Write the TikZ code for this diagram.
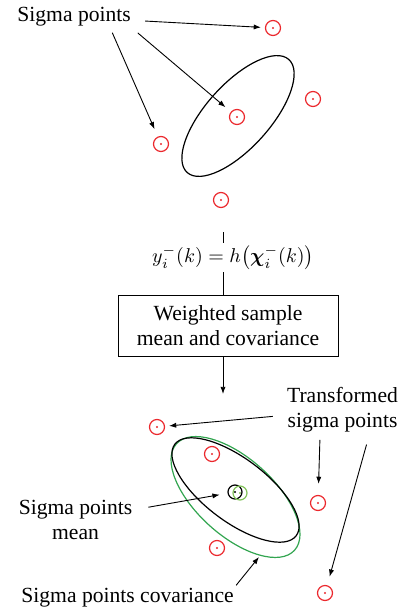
\documentclass[tikz,border=0pt]{standalone}
\usepackage{amsmath}
\usepackage{fontspec}
\setmainfont{Liberation Serif}
\usepackage{xcolor}
\usepackage{tikz}
\usetikzlibrary{positioning,arrows.meta,calc}
\definecolor{ptred}{RGB}{235,40,45}
\definecolor{covgreen}{RGB}{50,165,80}
\definecolor{meangreen}{RGB}{130,195,90}
\tikzset{
  sigpt/.style={circle, draw=ptred, line width=0.6pt, minimum size=7.5pt, inner sep=0pt,
                path picture={\fill[ptred] (path picture bounding box.center) circle (0.55pt);}},
  meanpt/.style={circle, draw=#1, line width=0.6pt, minimum size=7pt, inner sep=0pt,
                path picture={\fill[#1] (path picture bounding box.center) circle (0.55pt);}},
  lbl/.style={font=\fontsize{10.8}{12.6}\selectfont, inner sep=1pt, align=center},
  wbox/.style={draw, line width=0.5pt, minimum width=110pt, minimum height=30.5pt,
               align=center, font=\fontsize{10.8}{12.4}\selectfont},
  arr/.style={-{Latex[length=3.6pt,width=2.6pt]}, line width=0.45pt},
  ell/.style={line width=0.6pt}
}
\begin{document}
\begin{tikzpicture}[x=0.5pt, y=-0.5pt]
    \useasboundingbox (0,0) rectangle (406,609);
    % sigma points before the transform
    \node[lbl, anchor=base west] (sig) at (15,22) {Sigma points};
    \node[sigpt] (sp1) at (273,28) {};
    \node[sigpt] (sp2) at (237,117) {};
    \node[sigpt] (sp3) at (313,99) {};
    \node[sigpt] (sp4) at (161,144) {};
    \node[sigpt] (sp5) at (221,200) {};
    \draw[ell] (238,116) ellipse [x radius=38pt, y radius=16pt, rotate=48];
    \draw[arr, shorten <=6pt, shorten >=2pt] (sig) -- (sp1);
    \draw[arr, shorten <=3pt, shorten >=3.5pt] (sig.south east) -- (sp2);
    \draw[arr, shorten <=2pt, shorten >=4pt] (sig.-18) -- (sp4);
    % transform and weighting
    \coordinate (lntop) at (223,232);
    \node[inner sep=1pt, font=\fontsize{10.4}{12}\selectfont] (eq) at (233,257.5)
      {$y_i^{-}(k) = h\bigl(\boldsymbol{\chi}_i^{-}(k)\bigr)$};
    \node[wbox] (box) at (228,325.5) {Weighted sample\\mean and covariance};
    \coordinate (flowend) at (223,394);
    \draw[line width=0.5pt] (lntop) -- (lntop |- eq.north);
    \draw[line width=0.5pt] (lntop |- eq.south) -- (lntop |- box.north);
    \draw[arr] (lntop |- box.south) -- (flowend);
    % transformed sigma points
    \node[lbl] (trf) at (342.5,410) {Transformed\\sigma points};
    \node[sigpt] (tp1) at (157,427) {};
    \node[sigpt] (tp2) at (212,454) {};
    \node[sigpt] (tp3) at (318,503) {};
    \node[sigpt] (tp4) at (217,548) {};
    \node[sigpt] (tp5) at (325,593) {};
    \draw[ell, covgreen] (235.5,497) ellipse [x radius=39.75pt, y radius=19.3pt, rotate=-42];
    \draw[ell] (235.5,490) ellipse [x radius=38pt, y radius=15.75pt, rotate=-37];
    \node[meanpt=black] (mb) at (235,492) {};
    \node[meanpt=meangreen] (mg) at (240,493) {};
    \draw[arr, shorten <=6pt, shorten >=2pt] (trf) -- (tp1);
    \draw[arr, shorten <=2.5pt, shorten >=5.5pt] (trf.-132) -- (tp3);
    \draw[arr, shorten <=5pt, shorten >=4.4pt] (trf.-43) -- (tp5);
    \node[lbl] (mn) at (75.5,520) {Sigma points\\mean};
    \draw[arr, shorten <=7pt, shorten >=4pt] (mn) -- (mb);
    \node[lbl, anchor=base west] (cv) at (19,602) {Sigma points covariance};
    \coordinate (covtip) at (259,557);
    \draw[arr] (cv.north east) -- (covtip);
  \end{tikzpicture}
\end{document}
